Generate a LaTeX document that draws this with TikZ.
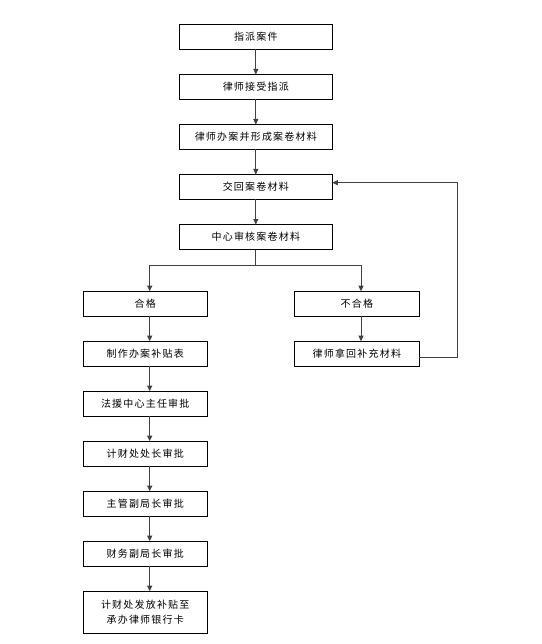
\documentclass[tikz,border=0pt]{standalone}
\usepackage{fontspec}
\setmainfont{Noto Sans CJK SC}
\usepackage{tikz}
\usetikzlibrary{positioning,arrows.meta}

\begin{document}
\begin{tikzpicture}[x=1pt, y=-1pt,
    box/.style={rectangle, draw=black, line width=1pt, fill=white,
        minimum height=25pt, inner sep=0pt, outer sep=0pt, text centered, text=black,
        font=\fontsize{10pt}{12.5pt}\selectfont\addfontfeatures{LetterSpace=12}},
    wide/.style={box, minimum width=153pt},
    narrow/.style={box, minimum width=124pt},
    link/.style={draw=black!75, line width=0.8pt},
    arr/.style={link, -{Triangle[length=5.5pt,width=5pt]}},
    node distance=25pt
]
\useasboundingbox (0,0) rectangle (541,644);
% main column
\node (assign) [wide] at (255.8,37) {指派案件};
\node (accept) [wide, below=of assign] {律师接受指派};
\node (handle) [wide, below=of accept] {律师办案并形成案卷材料};
\node (submit) [wide, below=of handle] {交回案卷材料};
\node (review) [wide, below=of submit] {中心审核案卷材料};
% left column
\node (pass) [narrow] at (145.2,303.7) {合格};
\node (table) [narrow, below=of pass] {制作办案补贴表};
\node (head) [narrow, below=of table] {法援中心主任审批};
\node (chief) [narrow, below=of head] {计财处处长审批};
\node (deputy) [narrow, below=of chief] {主管副局长审批};
\node (fin) [narrow, below=of deputy] {财务副局长审批};
\node (pay) [narrow, minimum height=42pt, below=of fin, align=center]
    {计财处发放补贴至\\[3pt]承办律师银行卡};
% right column
\node (fail) [box, minimum width=125pt] at (356.8,303.7) {不合格};
\node (redo) [box, minimum width=125pt, below=of fail] {律师拿回补充材料};

\foreach \a/\b in {assign/accept, accept/handle, handle/submit, submit/review}
    \draw[arr] (\a) -- (\b);
\foreach \a/\b in {pass/table, table/head, head/chief, chief/deputy, deputy/fin, fin/pay}
    \draw[arr] ([xshift=4.5pt]\a.south) -- ([xshift=4.5pt]\b.north);
\draw[arr] ([xshift=4.2pt]fail.south) -- ([xshift=4.2pt]redo.north);

\coordinate (split) at (255.8,265.7);
\draw[link] (review) -- (split);
\draw[arr] (split) -| ([xshift=4.5pt]pass.north);
\draw[arr] (split) -| ([xshift=4.2pt]fail.north);

\coordinate (back) at (457.3,182.7);
\draw[arr] ([yshift=-4pt]redo.east) -| (back) -- (back -| submit.east);
\end{tikzpicture}
\end{document}
